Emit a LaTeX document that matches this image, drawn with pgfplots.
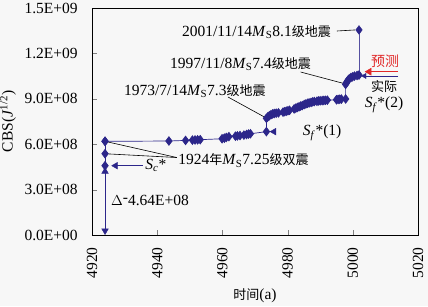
\documentclass[border=0pt]{standalone}
\usepackage{pgfplots}
\pgfplotsset{compat=1.18}
\usepackage{fontspec}
\setmainfont{Liberation Serif}
\newfontfamily\cjk{Noto Sans CJK SC}
\definecolor{navy}{RGB}{44,38,138}
\definecolor{bg}{RGB}{247,247,247}
\definecolor{predred}{RGB}{225,40,40}
\newcommand{\ms}{\textit{M}\textsubscript{S}}
\newcommand{\ck}[1]{{\cjk\fontsize{13}{15}\selectfont #1}}
\newcommand{\fs}{\fontsize{15.5}{17}\selectfont}
\begin{document}
\fs
\begin{tikzpicture}[font=\fs]
\fill[bg] (0,0) rectangle (428pt,306pt);
\useasboundingbox (0,0) rectangle (428pt,306pt);
\begin{axis}[
  at={(92pt,71pt)}, anchor=south west,
  width=326pt, height=227pt, scale only axis,
  xmin=4920, xmax=5020, ymin=0, ymax=1.5e9,
  xtick={4920,4940,4960,4980,5000,5020},
  ytick={0,3e8,6e8,9e8,1.2e9,1.5e9},
  yticklabels={0.0E+00,3.0E+08,6.0E+08,9.0E+08,1.2E+09,1.5E+09},
  scaled y ticks=false,
  tick align=inside, xtick pos=bottom, ytick pos=left,
  major tick length=5pt,
  xticklabel style={rotate=90, anchor=east, xshift=-7pt},
  xticklabel={\pgfmathprintnumber[/pgf/number format/set thousands separator={}]{\tick}},
  yticklabel style={xshift=-9pt},
  /pgf/number format/assume math mode=true,
  tick label style={font=\fs},
  label style={font=\fs},
  xlabel={\ck{时间}(a)},
  xlabel style={at={(axis description cs:0.5,0)}, yshift=-48pt, anchor=north},
  ylabel={CBS(\textit{J}\textsuperscript{1/2})},
  ylabel style={yshift=-2pt},
  axis line style={line width=0.9pt},
  axis background/.style={fill=bg},
  clip=false,
]
% Delta arrow
\addplot[navy, line width=0.7pt, mark=none] coordinates {(4924,4.58e8) (4924,0.2e8)};
\addplot[navy, only marks, mark=triangle*, mark size=3.8pt] coordinates {(4924,4.20e8)};
\addplot[navy, only marks, mark=triangle*, mark size=3.8pt, mark options={rotate=180}] coordinates {(4924,0.28e8)};
% vertical at 1924
\addplot[navy, line width=0.7pt, mark=diamond*, mark size=4.3pt] coordinates {(4924,6.19e8) (4924,5.37e8) (4924,4.58e8)};
% Sc* arrow
\addplot[navy, line width=0.7pt, mark=none] coordinates {(4935.6,4.58e8) (4927,4.58e8)};
\addplot[navy, only marks, mark=triangle*, mark size=3.8pt, mark options={rotate=90}] coordinates {(4927.2,4.58e8)};
% Sf*(1) triangle
\addplot[navy, line width=0.7pt, mark=none] coordinates {(4973.5,6.83e8) (4975.6,6.83e8)};
\addplot[navy, only marks, mark=triangle*, mark size=3.8pt, mark options={rotate=90}] coordinates {(4975.8,6.83e8)};
% main series
\addplot[navy, line width=0.7pt, mark=diamond*, mark size=4.3pt] coordinates {
(4924.0,6.19e8) (4943.6,6.21e8) (4948.7,6.25e8) (4950.8,6.27e8) (4951.6,6.28e8)
(4952.4,6.29e8) (4953.2,6.30e8) (4959.9,6.36e8) (4960.6,6.40e8) (4961.2,6.45e8)
(4962.0,6.50e8) (4964.0,6.53e8) (4964.6,6.55e8) (4965.4,6.57e8) (4966.6,6.60e8)
(4967.4,6.64e8) (4968.0,6.67e8) (4968.6,6.69e8) (4973.5,6.83e8)
(4973.5,7.71e8) (4973.9,7.80e8) (4974.4,7.88e8) (4974.9,7.95e8) (4975.4,8.00e8)
(4975.9,8.03e8) (4976.5,8.05e8) (4977.2,8.07e8) (4978.6,8.12e8) (4979.1,8.15e8)
(4979.6,8.18e8) (4980.1,8.21e8) (4980.6,8.24e8) (4982.0,8.33e8) (4982.5,8.38e8)
(4983.0,8.43e8) (4983.5,8.47e8) (4984.0,8.52e8) (4984.5,8.55e8) (4985.1,8.62e8)
(4985.6,8.66e8) (4986.1,8.70e8) (4986.6,8.73e8) (4987.2,8.76e8) (4987.7,8.80e8)
(4988.2,8.82e8) (4989.0,8.84e8) (4989.5,8.86e8) (4990.0,8.87e8) (4990.6,8.88e8)
(4991.1,8.89e8) (4991.6,8.90e8) (4992.2,8.91e8) (4995.0,8.94e8) (4995.5,8.96e8)
(4996.0,8.97e8) (4996.5,8.98e8) (4997.8,8.99e8) (4997.8,9.95e8) (4998.0,1.005e9)
(4998.3,1.015e9) (4998.6,1.025e9) (4998.9,1.032e9) (4999.4,1.040e9) (4999.9,1.045e9)
(5000.5,1.050e9) (5001.3,1.054e9) (5001.9,1.057e9)
};
\addplot[navy!80, line width=0.5pt, mark=diamond*, mark size=4.3pt, mark options={navy}, mark indices={2}] coordinates {(5001.9,1.057e9) (5001.9,1.355e9)};
% prediction / actual arrows
\addplot[predred, line width=0.8pt, mark=none] coordinates {(5013.9,1.079e9) (5005,1.079e9)};
\addplot[predred, only marks, mark=triangle*, mark size=4pt, mark options={rotate=90}] coordinates {(5005.0,1.079e9)};
\addplot[navy, line width=0.8pt, mark=none] coordinates {(5013.9,1.051e9) (5003.6,1.051e9)};
\addplot[navy, only marks, mark=triangle*, mark size=3pt, mark options={rotate=90}] coordinates {(5003.6,1.051e9)};
% annotations
\node[anchor=east, inner sep=0pt, font=\fs] at (axis cs:4993.3,1.341e9) {2001/11/14\ms8.1\ck{级地震}};
\draw[line width=0.6pt] (axis cs:4995.1,1.348e9) -- (axis cs:5000.7,1.355e9);
\node[anchor=east, inner sep=0pt, font=\fs] at (axis cs:4987.2,1.13e9) {1997/11/8\ms7.4\ck{级地震}};
\draw[line width=0.6pt] (axis cs:4984.0,1.077e9) -- (axis cs:4997.1,1.002e9);
\node[anchor=east, inner sep=0pt, font=\fs] at (axis cs:4973.3,9.53e8) {1973/7/14\ms7.3\ck{级地震}};
\draw[line width=0.6pt] (axis cs:4961.7,9.12e8) -- (axis cs:4973.2,7.76e8);
\node[inner sep=0pt, font=\fs] at (axis cs:4990.6,6.74e8) {\textit{S}\textsubscript{\textit{f}}*(1)};
\node[inner sep=0pt, text=predred, font=\cjk\fontsize{14}{16}\selectfont] at (axis cs:5009.9,1.15e9) {预测};
\node[inner sep=0pt, font=\fs] at (axis cs:5009.6,9.78e8) {\ck{实际}};
\node[inner sep=0pt, font=\fs] at (axis cs:5009.6,8.59e8) {\textit{S}\textsubscript{\textit{f}}*(2)};
\node[anchor=west, inner sep=0pt, font=\fs] at (axis cs:4946.4,4.92e8) {1924\ck{年}\ms7.25\ck{级双震}};
\draw[line width=0.6pt] (axis cs:4924,6.19e8) -- (axis cs:4946.0,5.12e8);
\draw[line width=0.6pt] (axis cs:4924,5.37e8) -- (axis cs:4946.0,5.12e8);
\node[inner sep=0pt, font=\fs] at (axis cs:4939.6,4.58e8) {\textit{S}\textsubscript{\textit{c}}*};
\node[anchor=west, inner sep=0pt, font=\fs] at (axis cs:4925.8,2.31e8) {$\Delta$\raisebox{0.35ex}{-}4.64E+08};
\end{axis}
\end{tikzpicture}
\end{document}
